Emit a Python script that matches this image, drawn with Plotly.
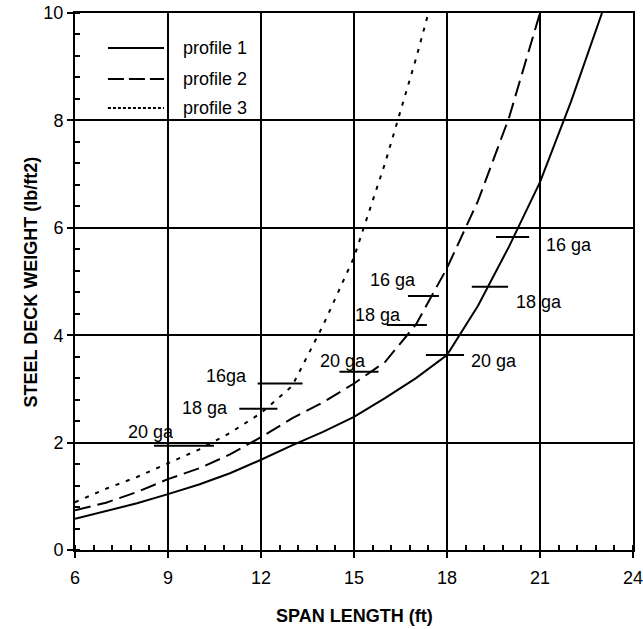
import plotly.graph_objects as go

# ---- data ----
p1_x = [6, 7, 8, 9, 10, 11, 12, 13, 14, 15, 16, 17, 18, 19, 20, 21, 22, 23]
p1_y = [0.58, 0.72, 0.87, 1.04, 1.22, 1.43, 1.68, 1.95, 2.20, 2.48, 2.83, 3.20, 3.63, 4.55, 5.65, 6.85, 8.35, 10.0]

p2_x = [6, 7, 8, 9, 10, 11, 12, 13, 14, 15, 16, 17, 18, 19, 20, 21]
p2_y = [0.74, 0.88, 1.08, 1.32, 1.52, 1.78, 2.10, 2.45, 2.75, 3.10, 3.50, 4.20, 5.25, 6.50, 8.05, 10.0]

p3_x = [6, 7, 8, 9, 10, 11, 12, 13, 14, 15, 16, 17, 17.4]
p3_y = [0.89, 1.14, 1.36, 1.62, 1.87, 2.18, 2.55, 3.05, 4.18, 5.45, 7.20, 9.15, 10.0]

gauge_labels = ["20 ga", "18 ga", "16ga", "20 ga", "18 ga", "16 ga", "20 ga", "18 ga", "16 ga"]
gauge_x0 = [8.55, 11.30, 11.89, 14.53, 16.06, 16.74, 17.32, 18.80, 19.58]
gauge_x1 = [10.48, 12.53, 13.34, 15.79, 17.35, 17.74, 18.55, 19.97, 20.65]
gauge_y = [1.94, 2.63, 3.10, 3.32, 4.19, 4.73, 3.63, 4.90, 5.83]
label_x = [8.44, 10.19, 10.90, 14.66, 15.76, 16.26, 19.50, 20.97, 21.95]
label_y = [2.20, 2.64, 3.24, 3.52, 4.38, 5.03, 3.52, 4.62, 5.68]

series_names = ["profile 1", "profile 2", "profile 3"]
x_ticks = [6, 9, 12, 15, 18, 21, 24]
y_ticks = [0, 2, 4, 6, 8, 10]

FONT = "Liberation Sans, Arial, sans-serif"
dashes = ["solid", "16px,7px", "4px,7px"]

fig = go.Figure()
for xs, ys, name, d in zip([p1_x, p2_x, p3_x], [p1_y, p2_y, p3_y], series_names, dashes):
    fig.add_trace(go.Scatter(x=xs, y=ys, mode="lines", name=name, showlegend=False,
                             line=dict(color="black", width=2, dash=d)))

# gauge marker segments
mx, my = [], []
for a, b, yv in zip(gauge_x0, gauge_x1, gauge_y):
    mx += [a, b, None]
    my += [yv, yv, None]
fig.add_trace(go.Scatter(x=mx, y=my, mode="lines", showlegend=False,
                         line=dict(color="black", width=2)))

for t, xv, yv in zip(gauge_labels, label_x, label_y):
    fig.add_annotation(x=xv, y=yv, text=t, showarrow=False, xanchor="center", yanchor="middle",
                       font=dict(family=FONT, size=18, color="black"))

# manual legend
leg_y = [0.935, 0.877, 0.823]
leg_dash = ["solid", "16px,5px", "3px,2px"]
for name, d, yy in zip(series_names, leg_dash, leg_y):
    fig.add_shape(type="line", xref="paper", yref="paper", x0=0.059, x1=0.1595, y0=yy, y1=yy,
                  line=dict(color="black", width=2, dash=d))
    fig.add_annotation(xref="paper", yref="paper", x=0.19, y=yy, text=name, showarrow=False,
                       xanchor="left", yanchor="middle",
                       font=dict(family=FONT, size=18, color="black"))

# axis titles
fig.add_annotation(xref="paper", yref="paper", x=0.5, y=-0.1225, text="<b>SPAN LENGTH (ft)</b>",
                   showarrow=False, xanchor="center", yanchor="middle",
                   font=dict(family=FONT, size=18, color="black"))
fig.add_annotation(xref="paper", yref="paper", x=-0.0789, y=0.5, text="<b>STEEL DECK WEIGHT (lb/ft2)</b>",
                   showarrow=False, xanchor="center", yanchor="middle", textangle=-90,
                   font=dict(family=FONT, size=18, color="black"))

axis_common = dict(showline=True, linewidth=2, linecolor="black", mirror=True,
                   showgrid=True, gridcolor="black", gridwidth=2, zeroline=False,
                   ticks="outside", ticklen=6, tickwidth=2, tickcolor="black", automargin=False,
                   ticklabeloverflow="allow",
                   tickfont=dict(family=FONT, size=18, color="black"))

fig.update_xaxes(range=[6, 24], tickvals=x_ticks, ticktext=[str(v) for v in x_ticks],
                 ticklabelstandoff=4,
                 minor=dict(ticks="inside", ticklen=5, tickwidth=2, tickcolor="black",
                            dtick=0.6, tick0=6, showgrid=False),
                 **axis_common)
fig.update_yaxes(range=[0, 10], tickvals=y_ticks, ticktext=[str(v) for v in y_ticks],
                 minor=dict(ticks="inside", ticklen=5, tickwidth=2, tickcolor="black",
                            dtick=0.4, tick0=0, showgrid=False),
                 **axis_common)

fig.update_layout(width=643, height=629, margin=dict(l=75, r=10, t=13, b=79),
                  plot_bgcolor="white", paper_bgcolor="white",
                  font=dict(family=FONT, size=18, color="black"))

fig.write_html("out.html", config={"displayModeBar": False},
               post_script="document.body.style.margin='0';document.body.style.overflow='hidden';")
